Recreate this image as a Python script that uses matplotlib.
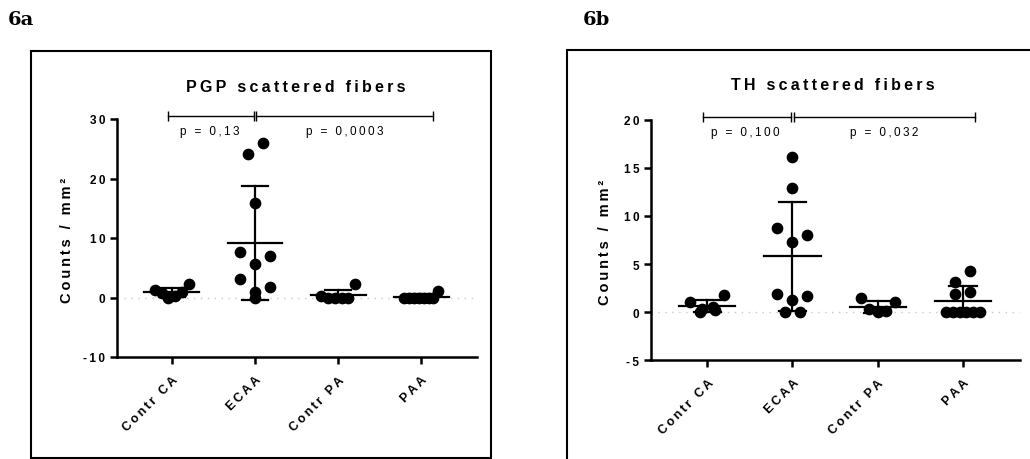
import matplotlib
matplotlib.use('Agg')
import matplotlib.pyplot as plt
import numpy as np
from matplotlib.patches import Rectangle

plt.rcParams['font.family'] = ['Liberation Sans', 'DejaVu Sans']

## data
groups = ['Contr CA', 'ECAA', 'Contr PA', 'PAA']

pgp_contr_ca = [0.8, 1.2, 0.0, 0.3, 2.2, 0.85]
pgp_ecaa = [24.2, 26.0, 15.8, 7.7, 6.9, 5.7, 3.1, 1.7, 0.85, 0.0]
pgp_contr_pa = [0.0, 0.0, 0.0, 0.0, 0.2, 2.2]
pgp_paa = [1.1, 0.0, 0.0, 0.0, 0.0, 0.0, 0.0, 0.0]

th_contr_ca = [1.0, 0.35, 0.0, 1.75, 0.2, 0.5]
th_ecaa = [16.1, 12.9, 8.7, 8.0, 7.3, 1.9, 1.3, 1.7, 0.0, 0.0]
th_contr_pa = [1.0, 0.15, 0.0, 1.5, 0.1, 0.3]
th_paa = [4.3, 3.1, 2.1, 1.9, 0.0, 0.0, 0.0, 0.0, 0.0, 0.0]

pgp_p = ['p = 0,13', 'p = 0,0003']
th_p = ['p = 0,100', 'p = 0,032']

W, H = 1030, 460
DPI = 100


def sp(s, n=1):
    ## Prism-like letter spacing
    return ('\u2009' * n).join(s)


def rows_layout(values, px_per_unit, px_per_cat, row_h=14, slot=15, maxw=34):
    ## Prism-ish scatter: bin points into rows, spread each row sideways
    order = np.argsort(-np.asarray(values), kind='stable')
    offs = np.zeros(len(values))
    rows, cur = [], []
    for k in order:
        if cur and (values[cur[0]] - values[k]) * px_per_unit > row_h:
            rows.append(cur)
            cur = []
        cur.append(k)
    rows.append(cur)
    for row in rows:
        n = len(row)
        if n == 1:
            continue
        step = min(slot, maxw / (n - 1))
        pos = [(j - (n - 1) / 2) * step for j in range(n)]
        ## fill outer slots first, alternating sides
        seq = []
        lo, hi = 0, n - 1
        right = (n % 2 == 0)
        while lo <= hi:
            if right:
                seq.append(pos[hi]); hi -= 1
            else:
                seq.append(pos[lo]); lo += 1
            right = not right
        for k, p in zip(row, seq):
            offs[k] = p / px_per_cat
    return offs


def panel(fig, rect, data, ylim, yticks, title, title_xy, ylabel_xy, pvals,
          br_y, txt_y):
    ax = fig.add_axes(rect)
    ax.set_xlim(-0.66, 3.67)
    ax.set_ylim(*ylim)
    ax.spines['top'].set_visible(False)
    ax.spines['right'].set_visible(False)
    for s in ['left', 'bottom']:
        ax.spines[s].set_linewidth(1.8)
    ax.tick_params(width=1.8, length=5, direction='out')
    ax.tick_params(axis='x', pad=7)
    ax.set_yticks(yticks)
    ax.set_yticklabels([sp(str(t)) for t in yticks], fontsize=8.5, fontweight='bold')
    ax.set_xticks(range(len(groups)))
    ax.set_xticklabels([sp(g) for g in groups], fontsize=9, fontweight='bold',
                       rotation=45, ha='right', va='top', rotation_mode='anchor')

    ax.axhline(0, color='#c8c8c8', lw=1.0, ls=(0, (1, 4)), zorder=0)

    px_unit = rect[3] * H / (ylim[1] - ylim[0])
    px_cat = rect[2] * W / (3.67 + 0.66)
    for i, vals in enumerate(data):
        vals = np.array(vals)
        xo = rows_layout(vals, px_unit, px_cat)
        ax.scatter(i + xo, vals, s=55, color='black', zorder=3, clip_on=False)
        m = vals.mean()
        sd = vals.std(ddof=1)
        ax.plot([i - 0.33, i + 0.33], [m, m], color='black', lw=1.6, zorder=4)
        ax.plot([i, i], [m - sd, m + sd], color='black', lw=1.6, zorder=4)
        for y in (m - sd, m + sd):
            ax.plot([i - 0.16, i + 0.16], [y, y], color='black', lw=1.6, zorder=4)

    ## significance brackets
    ax.plot([-0.05, 0.985], [br_y, br_y], color='black', lw=1.0, clip_on=False)
    ax.plot([1.015, 3.14], [br_y, br_y], color='black', lw=1.0, clip_on=False)
    ax.plot([-0.05, 0.985, 1.015, 3.14], [br_y] * 4, ls='none', marker='|',
            ms=6.5, mew=1.0, color='black', clip_on=False)
    ax.text(0.45, txt_y, sp(pvals[0]), ha='center', va='center', fontsize=8.5)
    ax.text(2.08, txt_y, sp(pvals[1]), ha='center', va='center', fontsize=8.5)

    fig.text(title_xy[0], title_xy[1], sp(title), ha='center', va='center',
             fontsize=11.5, fontweight='bold')
    fig.text(ylabel_xy[0], ylabel_xy[1], sp('Counts / mm²'), ha='center',
             va='center', rotation=90, fontsize=10.5, fontweight='bold')
    return ax


fig = plt.figure(figsize=(W / DPI, H / DPI), dpi=DPI)

## panel frames
fig.patches.append(Rectangle((31 / W, 1 / H), 460 / W, 407 / H, transform=fig.transFigure,
                             fill=False, lw=1.5, ec='black'))
fig.patches.append(Rectangle((567 / W, -0.05), 0.5, 1 - 51 / H + 0.05, transform=fig.transFigure,
                             fill=False, lw=1.5, ec='black'))

panel(fig, [117 / W, 1 - 358 / H, 360 / W, 238 / H],
      [pgp_contr_ca, pgp_ecaa, pgp_contr_pa, pgp_paa],
      (-10, 30), [-10, 0, 10, 20, 30], 'PGP scattered fibers',
      (296 / W, 1 - 87 / H), (67 / W, 1 - 240 / H), pgp_p, 30.5, 28.0)

panel(fig, [651 / W, 1 - 361 / H, 369 / W, 240 / H],
      [th_contr_ca, th_ecaa, th_contr_pa, th_paa],
      (-5, 20), [-5, 0, 5, 10, 15, 20], 'TH scattered fibers',
      (833 / W, 1 - 86 / H), (605 / W, 1 - 242 / H), th_p, 20.3, 18.75)

fig.text(8 / W, 1 - 20 / H, '6a', ha='left', va='center', fontsize=14,
         fontweight='bold', family='DejaVu Serif')
fig.text(583 / W, 1 - 20 / H, '6b', ha='left', va='center', fontsize=14,
         fontweight='bold', family='DejaVu Serif')

fig.savefig('out.png', dpi=DPI)
